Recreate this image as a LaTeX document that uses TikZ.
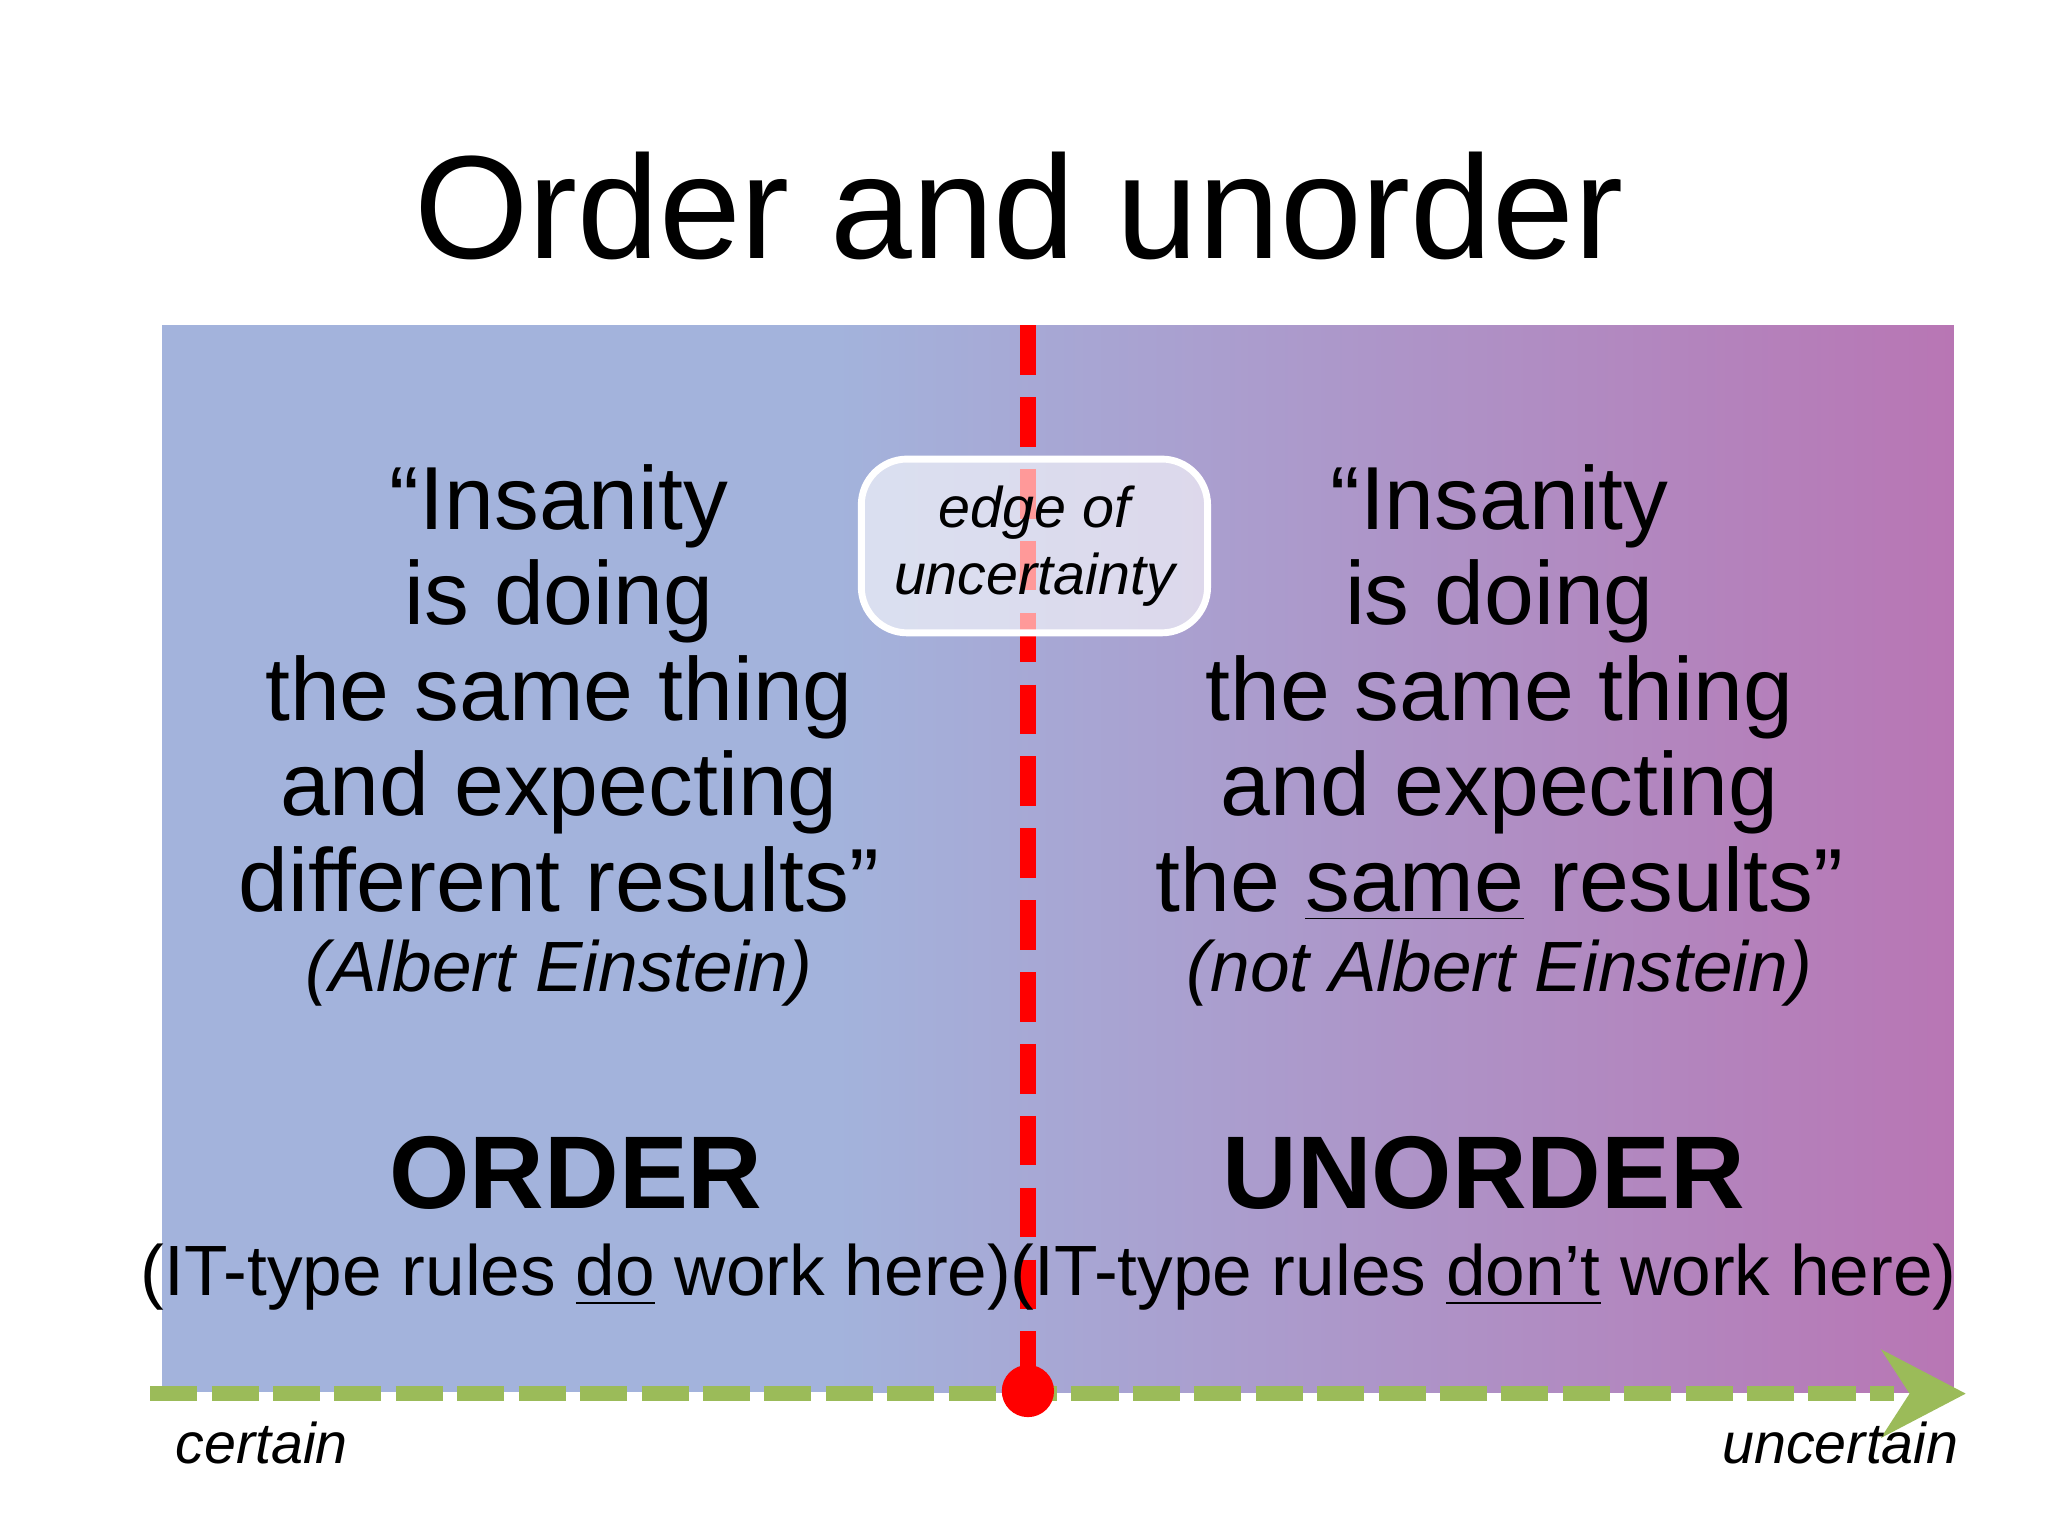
\documentclass[tikz,border=0pt]{standalone}
\usepackage{fontspec}
\setmainfont{Liberation Sans}
\usetikzlibrary{arrows.meta}
\definecolor{bgl}{HTML}{A3B3DC}
\definecolor{bgr}{HTML}{B876B4}
\definecolor{gr}{HTML}{9BBB59}
\tikzset{quote/.style={align=center,font=\fontsize{19.5}{20.8}\selectfont},
 src/.style={font=\fontsize{15.5}{18}\selectfont\itshape},
 big/.style={font=\fontsize{22.5}{26}\selectfont\bfseries},
 rules/.style={font=\fontsize{15.5}{18}\selectfont},
 axl/.style={font=\fontsize{12.5}{15}\selectfont\itshape}}
\begin{document}
\begin{tikzpicture}[x=0.01cm,y=-0.01cm]
\useasboundingbox[fill=white] (0,0) rectangle (1568,1176);
\fill[bgl] (124,249) rectangle (640,1066);
\shade[left color=bgl,right color=bgr] (639,249) rectangle (1496,1066);
\node[font=\fontsize{32}{36}\selectfont] (title) at (780,158) {Order and unorder};
\coordinate (rt) at (787,249);
\coordinate (rb) at (787,1065);
\coordinate (gs) at (115,1067);
\coordinate (ge) at (1505,1067);
\draw[gr,line width=12*0.2845pt,dash pattern=on 36*0.2845pt off 11*0.2845pt] (gs) -- (1450,1067);
\fill[gr] (1440,1033) -- (ge) -- (1440,1101) -- (1462,1067) -- cycle;
\draw[red,line width=12*0.2845pt,dash pattern=on 38*0.2845pt off 17*0.2845pt] (rt) -- (rb);
\fill[red] (rb) circle (20);
\node[draw=white,line width=1.5pt,fill=white,fill opacity=0.6,text opacity=1,rounded corners=10pt,minimum width=265*0.2845pt,minimum height=133*0.2845pt,align=center,font=\fontsize{12.5}{14.5}\selectfont\itshape] (edge) at (792,418) {edge of\\uncertainty};
\node[quote,anchor=north] (lq) at (428,343) {“Insanity\\is doing\\the same thing\\and expecting\\different results”};
\node[quote,anchor=north] (rq) at (1148,343) {“Insanity\\is doing\\the same thing\\and expecting\\the \underline{same} results”};
\node[src] (ls) at (428,745) {(Albert Einstein)};
\node[src] (rs) at (1148,745) {(not Albert Einstein)};
\node[big] (ord) at (441,898) {ORDER};
\node[big] (unord) at (1136,898) {UNORDER};
\node[rules] (lr) at (441,978) {(IT-type rules \underline{do} work here)};
\node[rules] (rr) at (1136,978) {(IT-type rules \underline{don’t} work here)};
\node[axl,anchor=west] (cert) at (122,1105) {certain};
\node[axl,anchor=east] (uncert) at (1512,1105) {uncertain};
\end{tikzpicture}
\end{document}
